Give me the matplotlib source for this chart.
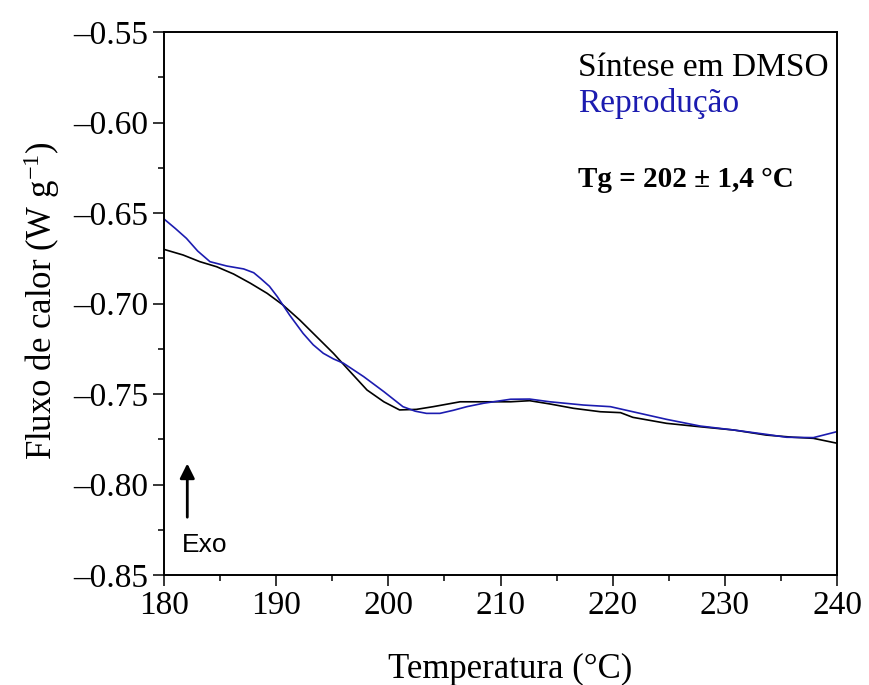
import matplotlib
matplotlib.use("Agg")
import matplotlib.pyplot as plt
from matplotlib.ticker import MultipleLocator

# =========================
# DATA
# =========================
temp_dmso = [180.0, 181.7, 183.2, 184.7, 186.2, 187.7, 189.2, 190.6, 192.1,
             193.6, 195.1, 196.6, 198.1, 199.6, 201.0, 202.5, 204.0, 206.4,
             208.5, 210.9, 212.6, 214.4, 216.5, 218.9, 220.7, 221.8, 224.8,
             227.8, 230.8, 233.7, 236.1, 237.9, 240.0]
flux_dmso = [-0.6701, -0.6732, -0.6769, -0.6797, -0.6837, -0.6888, -0.6944,
             -0.7008, -0.7091, -0.7183, -0.7275, -0.7377, -0.7478, -0.7543,
             -0.7588, -0.7585, -0.7570, -0.7543, -0.7543, -0.7543, -0.7537,
             -0.7555, -0.7579, -0.7598, -0.7603, -0.7629, -0.7662, -0.7681,
             -0.7699, -0.7727, -0.7739, -0.7745, -0.7772]

temp_rep = [180.0, 181.0, 182.0, 183.0, 184.1, 185.6, 187.1, 188.0, 188.6,
            189.4, 190.1, 191.2, 192.4, 193.3, 194.2, 195.1, 196.0, 197.8,
            199.6, 201.3, 202.4, 203.4, 204.6, 205.8, 207.0, 208.5, 210.9,
            212.6, 214.4, 217.4, 219.8, 221.8, 224.8, 227.8, 230.8, 233.7,
            235.5, 237.9, 240.0]
flux_rep = [-0.6533, -0.6585, -0.6640, -0.6710, -0.6769, -0.6793, -0.6809,
            -0.6830, -0.6861, -0.6905, -0.6962, -0.7064, -0.7165, -0.7228,
            -0.7275, -0.7306, -0.7330, -0.7404, -0.7487, -0.7570, -0.7595,
            -0.7607, -0.7607, -0.7590, -0.7570, -0.7551, -0.7529, -0.7528,
            -0.7543, -0.7561, -0.7570, -0.7598, -0.7640, -0.7677, -0.7699,
            -0.7723, -0.7739, -0.7741, -0.7708]

labels = ["Síntese em DMSO", "Reprodução"]
tg_text = "Tg = 202 ± 1,4 °C"

BLUE = "#1c1cb0"

# =========================
# STYLE
# =========================
plt.rcParams["font.family"] = ["Liberation Serif", "DejaVu Serif"]
plt.rcParams["mathtext.fontset"] = "custom"
plt.rcParams["mathtext.rm"] = "Liberation Serif"

fig = plt.figure(figsize=(8.69, 6.85), dpi=100)
ax = fig.add_axes([164 / 869, 110 / 685, 673 / 869, 543 / 685])

ax.plot(temp_dmso, flux_dmso, color="black", lw=1.2)
ax.plot(temp_rep, flux_rep, color=BLUE, lw=1.2)

ax.set_xlim(180, 240)
ax.set_ylim(-0.85, -0.55)
ax.xaxis.set_major_locator(MultipleLocator(10))
ax.xaxis.set_minor_locator(MultipleLocator(5))
ax.yaxis.set_major_locator(MultipleLocator(0.05))
ax.yaxis.set_minor_locator(MultipleLocator(0.025))
ax.yaxis.set_major_formatter(plt.FuncFormatter(lambda v, p: f"{v:.2f}".replace("-", "\u2013")))

ax.tick_params(which="major", direction="out", length=8, width=1.1,
               labelsize=24, pad=3)
ax.tick_params(which="minor", direction="out", length=4.5, width=1.1)
for s in ax.spines.values():
    s.set_linewidth(1.4)

ax.set_xlabel("Temperatura (°C)", fontsize=25, labelpad=23)
ax.set_ylabel(r"Fluxo de calor (W g$\mathregular{^{-1}}$)", fontsize=25, labelpad=8.5)
ax.xaxis.label.set_x(0.5 + 10 / 673)
ax.yaxis.label.set_y(0.5 + 3 / 543)

# legend-like texts
ax.text(0.615, 0.9195, labels[0], transform=ax.transAxes, fontsize=24,
        color="black")
ax.text(0.615, 0.853, labels[1], transform=ax.transAxes, fontsize=24,
        color=BLUE)
ax.text(0.615, 0.715, tg_text, transform=ax.transAxes, fontsize=21,
        fontweight="bold", color="black")

# Exo arrow
ax.annotate("", xy=(0.0346, 0.2105), xytext=(0.0346, 0.1013),
            xycoords="axes fraction", textcoords="axes fraction",
            arrowprops=dict(arrowstyle="-|>", color="black", lw=2,
                            mutation_scale=22))
ax.text(0.027, 0.043, "Exo", transform=ax.transAxes, fontsize=19,
        family="Liberation Sans")

fig.savefig("out.png", dpi=100)
